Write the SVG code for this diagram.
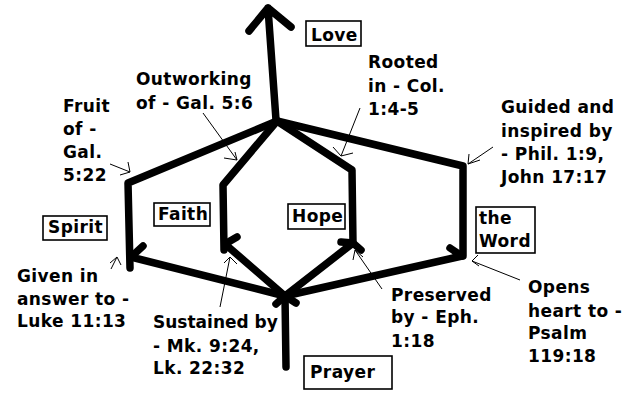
<svg xmlns="http://www.w3.org/2000/svg" width="640" height="419" viewBox="0 0 640 419">
<style>
.t{font-family:"DejaVu Sans",sans-serif;font-weight:bold;font-size:17px;letter-spacing:0.4px;fill:#000}
.box{fill:#fff;stroke:#000;stroke-width:1.6}
.thick{fill:none;stroke:#000;stroke-width:7.5;stroke-linecap:round;stroke-linejoin:round}
.thin{fill:none;stroke:#000;stroke-width:1}
</style>
<rect width="640" height="419" fill="#fff"/>
<g id="connectors">
  <path class="thick" d="M276,120 L268,8 M249,31 L268,8 L291,27"/>
  <path class="thick" d="M277,121 L128,183 L130,268"/>
  <path class="thick" d="M277,121 L223,185 L224,250"/>
  <path class="thick" d="M277,121 L352,170 L353,244"/>
  <path class="thick" d="M277,121 L463,166 L463,256"/>
  <path class="thick" d="M286,367 L285,296"/>
  <path class="thick" d="M276,304 L285,296 L296,303"/>
  <path class="thick" d="M285,296 L131,257 M143,246 L131,257"/>
  <path class="thick" d="M285,296 L225,244 M237,237 L225,244"/>
  <path class="thick" d="M285,296 L353,243 M341,242 L353,243 L361,250"/>
  <path class="thick" d="M285,296 L462,256 M450,248 L462,256"/>
  <path class="thin" d="M110,164 L130,172 M128,162 L130,172 L120,175"/>
  <path class="thin" d="M203,113 L237,160 M235,152 L237,160 L224,158"/>
  <path class="thin" d="M360,108 L341,156 M333,147 L341,156 L353,153"/>
  <path class="thin" d="M493,147 L468,164 M469,154 L468,164 L480,160"/>
  <path class="thin" d="M111,269 L117,257 M110,263 L117,257 L121,265"/>
  <path class="thin" d="M220,307 L230,257 M224,263 L230,257 L237,264"/>
  <path class="thin" d="M382,289 L355,250 M353,260 L355,250 L363,257"/>
  <path class="thin" d="M520,280 L472,261 M478,255 L472,261 L479,266"/>
</g>
<g id="love"><rect class="box" x="306" y="21" width="55" height="25"/><text class="t" x="311" y="41">Love</text></g>
<g id="spirit"><rect class="box" x="43" y="216" width="64" height="24"/><text class="t" x="48" y="233">Spirit</text></g>
<g id="faith"><rect class="box" x="154" y="203" width="56" height="23"/><text class="t" x="158" y="220">Faith</text></g>
<g id="hope"><rect class="box" x="288" y="204" width="57" height="25"/><text class="t" x="292" y="222">Hope</text></g>
<g id="word"><rect class="box" x="476" y="207" width="59" height="46"/><text class="t" x="479" y="224">the</text><text class="t" x="479" y="247">Word</text></g>
<g id="prayer"><rect class="box" x="304" y="356" width="88" height="33"/><text class="t" x="310" y="378">Prayer</text></g>
<g id="labels">
  <text class="t" x="63" y="112">Fruit</text>
  <text class="t" x="63" y="135">of -</text>
  <text class="t" x="63" y="158">Gal.</text>
  <text class="t" x="63" y="181">5:22</text>
  <text class="t" x="136" y="85">Outworking</text>
  <text class="t" x="136" y="109">of - Gal. 5:6</text>
  <text class="t" x="368" y="68">Rooted</text>
  <text class="t" x="368" y="92">in - Col.</text>
  <text class="t" x="368" y="115">1:4-5</text>
  <text class="t" x="501" y="113">Guided and</text>
  <text class="t" x="501" y="137">inspired by</text>
  <text class="t" x="501" y="160">- Phil. 1:9,</text>
  <text class="t" x="501" y="183">John 17:17</text>
  <text class="t" x="17" y="282">Given in</text>
  <text class="t" x="17" y="305">answer to -</text>
  <text class="t" x="17" y="327">Luke 11:13</text>
  <text class="t" x="153" y="328" style="letter-spacing:0">Sustained by</text>
  <text class="t" x="153" y="352">- Mk. 9:24,</text>
  <text class="t" x="153" y="374">Lk. 22:32</text>
  <text class="t" x="391" y="301">Preserved</text>
  <text class="t" x="391" y="323">by - Eph.</text>
  <text class="t" x="391" y="347">1:18</text>
  <text class="t" x="528" y="293">Opens</text>
  <text class="t" x="528" y="317">heart to -</text>
  <text class="t" x="528" y="339">Psalm</text>
  <text class="t" x="528" y="362">119:18</text>
</g>
</svg>
